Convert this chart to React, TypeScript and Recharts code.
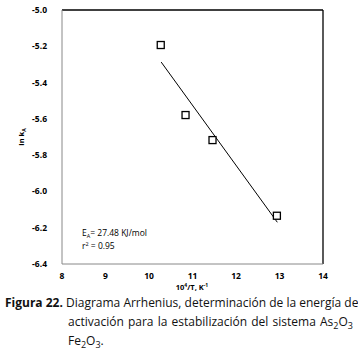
import React from 'react';
import { ComposedChart, Scatter, XAxis, YAxis, ReferenceLine, Label } from 'recharts';

const xTicks = [8, 9, 10, 11, 12, 13, 14];
const yTicks = [-6.4, -6.2, -6.0, -5.8, -5.6, -5.4, -5.2, -5.0];
const invT = [10.27, 10.84, 11.46, 12.94];
const lnK = [-5.193, -5.579, -5.717, -6.134];
const fitX = [10.28, 12.95];
const fitY = [-5.287, -6.17];

const points = invT.map((x, i) => ({ x, y: lnK[i] }));
const fit = fitX.map((x, i) => ({ x, y: fitY[i] }));

const tickFont = { fontFamily: 'Open Sans', fontSize: 8.5, fontWeight: 700, fill: '#000' };

const Square = (props: any) => {
  const { cx, cy } = props;
  if (cx == null || cy == null) return null;
  return <rect x={cx - 3.5} y={cy - 3.5} width={7} height={7} fill="#fff" stroke="#000" strokeWidth={1.3} />;
};

const XTick = (props: any) => {
  const { x, payload } = props;
  return (
    <text x={x} y={279} textAnchor="middle" style={tickFont}>{payload.value}</text>
  );
};

const XLabel = (props: any) => {
  const vb = props.viewBox;
  return (
    <text x={192} y={vb.y + 26} textAnchor="middle" style={{ ...tickFont, fontSize: 7.5 }}>
      10<tspan dy={-3} fontSize={5}>4</tspan><tspan dy={3}>/T, K</tspan><tspan dy={-3} fontSize={5}>-1</tspan>
    </text>
  );
};

const YLabel = (props: any) => {
  const vb = props.viewBox;
  const cx = 24;
  const cy = vb.y + vb.height / 2;
  return (
    <text x={cx} y={cy} textAnchor="middle" transform={`rotate(-90 ${cx} ${cy})`} style={{ ...tickFont, fontSize: 7.5 }}>
      ln k<tspan dy={2} fontSize={5}>A</tspan>
    </text>
  );
};

export default function App() {
  return (
    <div style={{ position: 'absolute', left: 0, top: 0, width: 358, height: 354, background: '#fff' }}>
      <ComposedChart width={358} height={294} margin={{ top: 10, right: 35, left: 22, bottom: 0 }}>
        <XAxis type="number" dataKey="x" domain={[8, 14]} ticks={xTicks} tickLine={false}
          axisLine={{ stroke: '#888' }} tick={<XTick />} height={30} allowDataOverflow>
          <Label content={<XLabel />} />
        </XAxis>
        <YAxis type="number" dataKey="y" domain={[-6.4, -5.0]} ticks={yTicks} tickLine={false}
          axisLine={{ stroke: '#888' }} tick={tickFont} width={40} tickMargin={9}
          tickFormatter={(v: number) => v.toFixed(1)} allowDataOverflow>
          <Label content={<YLabel />} />
        </YAxis>
        <ReferenceLine y={-5.0} stroke="#000" strokeWidth={1.3} />
        <ReferenceLine x={14} stroke="#000" strokeWidth={1.3} />
        <Scatter data={fit} line={{ stroke: '#000', strokeWidth: 1 }} shape={() => null} isAnimationActive={false} />
        <Scatter data={points} shape={<Square />} isAnimationActive={false} />
      </ComposedChart>
      <div style={{ position: 'absolute', left: 82, top: 227, fontFamily: 'Open Sans', fontSize: 8.5, lineHeight: '12px', color: '#000' }}>
        <div>E<span style={{ fontSize: 5.5, position: 'relative', top: 2 }}>A</span>= 27.48 KJ/mol</div>
        <div>r<span style={{ fontSize: 5.5, position: 'relative', top: -3 }}>2</span> = 0.95</div>
      </div>
      <div style={{ position: 'absolute', left: 5, top: 293, width: 348, fontFamily: 'Open Sans', fontSize: 12, lineHeight: '19px', color: '#111' }}>
        <div style={{ whiteSpace: 'nowrap' }}><b>Figura 22.</b> Diagrama Arrhenius, determinación de la energía de</div>
        <div style={{ paddingLeft: 63, textAlign: 'justify', textAlignLast: 'justify' }}>activación para la estabilización del sistema As<span style={{ fontSize: 9, position: 'relative', top: 3 }}>2</span>O<span style={{ fontSize: 9, position: 'relative', top: 3 }}>3</span></div>
        <div style={{ paddingLeft: 63, marginTop: -1 }}>Fe<span style={{ fontSize: 9, position: 'relative', top: 3 }}>2</span>O<span style={{ fontSize: 9, position: 'relative', top: 3 }}>3</span>.</div>
      </div>
    </div>
  );
}
